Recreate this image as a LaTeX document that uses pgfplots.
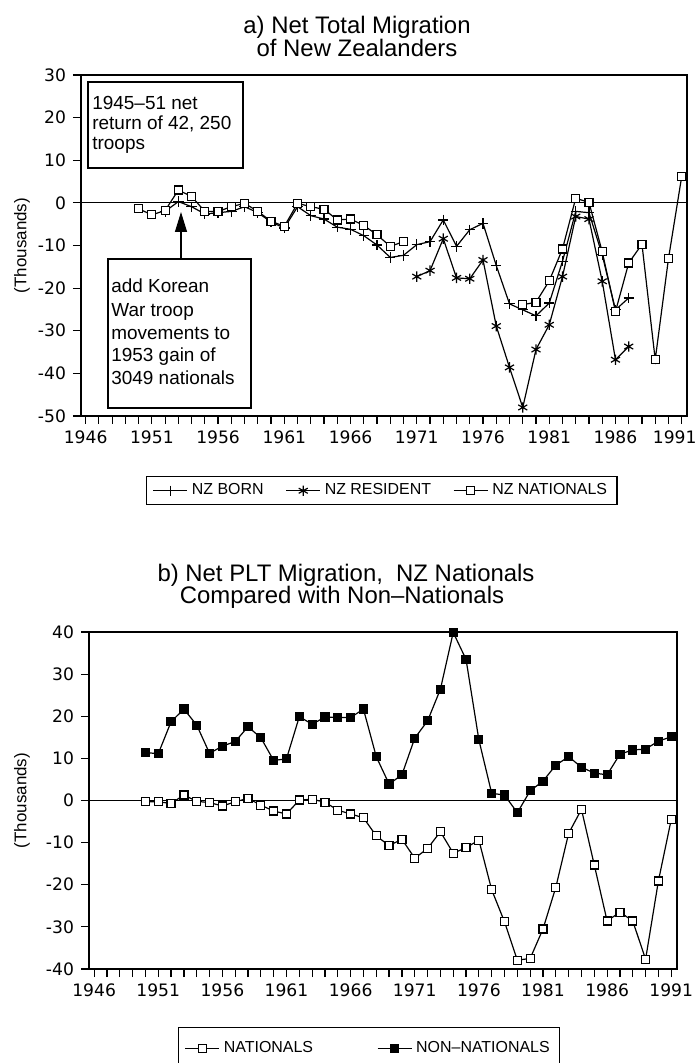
\documentclass[border=0pt]{standalone}
\usepackage{fontspec}
\setmainfont{Liberation Sans}
\newfontfamily\tickfont{DejaVu Sans}
\usepackage{pgfplots}
\pgfplotsset{compat=1.18}
\usetikzlibrary{arrows.meta}

% one pixel of the 699x1063 reference = 0.5bp
\pgfplotsset{migr/.style={
  scale only axis,
  axis line style={line width=0.8pt},
  tick align=outside,
  xtick pos=bottom, ytick pos=left,
  xtick={1946,1951,...,1991},
  minor x tick num=4,
  major tick length=4bp, minor tick length=4bp,
  tick style={black, line width=0.6pt},
  tick label style={font=\tickfont\fontsize{8.6}{10}\selectfont},
  /pgf/number format/assume math mode=true,
  xticklabel style={/pgf/number format/1000 sep={}},
  ylabel={(Thousands)},
  ylabel style={font=\fontsize{8.5}{10}\selectfont},
  extra y ticks={0}, extra y tick labels={},
  extra y tick style={grid=major, major grid style={black, line width=0.6pt}, major tick length=0pt},
  unbounded coords=jump,
  every axis plot/.append style={black, line width=0.6pt},
  legend style={draw=black, line width=0.7pt, font=\fontsize{8}{9.6}\selectfont},
}}

\pgfplotstableread{
year born
1952 -2.0
1953 0.3
1954 -0.9
1955 -2.6
1956 -2.3
1957 -2.0
1958 -0.9
1959 -2.3
1960 -4.5
1961 -5.9
1962 -0.9
1963 -3.0
1964 -3.8
1965 -5.7
1966 -6.2
1967 -7.7
1968 -9.9
1969 -12.8
1970 -12.3
1971 -9.8
1972 -9.1
1973 -4.0
1974 -10.2
1975 -6.3
1976 -4.8
1977 -14.7
1978 -23.7
1979 -25.1
1980 -26.5
1981 -23.5
1982 -13.7
1983 -2.0
1984 -2.3
1985 -12.2
1986 -25.1
1987 -22.3
}\nzborn

\pgfplotstableread{
year resident
1971 -17.3
1972 -15.9
1973 -8.4
1974 -17.6
1975 -17.8
1976 -13.4
1977 -28.9
1978 -38.6
1979 -48.0
1980 -34.4
1981 -28.6
1982 -17.3
1983 -3.2
1984 -3.8
1985 -18.4
1986 -36.8
1987 -33.7
}\nzresident

\pgfplotstableread{
year nationals
1950 -1.4
1951 -2.8
1952 -1.8
1953 3.0
1954 1.5
1955 -2.0
1956 -2.0
1957 -0.9
1958 -0.1
1959 -2.0
1960 -4.3
1961 -5.5
1962 -0.1
1963 -0.9
1964 -1.5
1965 -4.0
1966 -3.8
1967 -5.3
1968 -7.5
1969 -10.2
1970 -9.1
1971 nan
1979 -23.9
1980 -23.3
1981 -18.3
1982 -10.8
1983 1.1
1984 0.1
1985 -11.5
1986 -25.5
1987 -14.1
1988 -9.7
1989 -36.8
1990 -13.1
1991 6.2
}\nznationals

\pgfplotstableread{
year nat non
1950 -0.3 11.4
1951 -0.3 11.1
1952 -0.7 18.7
1953 1.3 21.7
1954 -0.2 17.9
1955 -0.5 11.2
1956 -1.3 12.9
1957 -0.3 14.0
1958 0.5 17.5
1959 -1.1 14.9
1960 -2.5 9.5
1961 -3.2 9.9
1962 0.1 19.9
1963 0.3 18.1
1964 -0.4 19.8
1965 -2.3 19.7
1966 -3.2 19.7
1967 -4.1 21.7
1968 -8.4 10.4
1969 -10.7 3.9
1970 -9.2 6.1
1971 -13.7 14.8
1972 -11.4 18.9
1973 -7.4 26.4
1974 -12.5 39.9
1975 -11.2 33.5
1976 -9.4 14.4
1977 -21.2 1.7
1978 -28.8 1.3
1979 -37.9 -2.9
1980 -37.5 2.3
1981 -30.5 4.6
1982 -20.6 8.4
1983 -7.8 10.4
1984 -2.1 7.9
1985 -15.3 6.5
1986 -28.6 6.1
1987 -26.5 11.0
1988 -28.6 12.0
1989 -37.7 12.2
1990 -19.1 14.1
1991 -4.5 15.1
}\pltmigr

\begin{document}
\begin{tikzpicture}

% a) net total migration
\begin{axis}[migr,
  at={(40.5bp,323.5bp)}, anchor=south west,
  width=303bp, height=170.5bp,
  xmin=1945.65, xmax=1991.4,
  xticklabels={1946,1951,1956,1961,1966,1971,1976,1981,1986,{\kern-7bp 1991}},
  ymin=-50, ymax=30, ytick={-50,-40,...,30},
  ylabel style={at={(axis description cs:-0.0974,0.5)}, anchor=center},
  legend columns=3,
  legend style={at={(axis description cs:0.1073,-0.176)}, anchor=north west,
    inner ysep=1.5bp, /tikz/every even column/.append style={column sep=9bp}},
]
\addplot[mark=+, mark size=2.6bp] table[x=year, y=born] {\nzborn};
\addlegendentry{NZ BORN}
\addplot[mark=asterisk, mark size=2.6bp] table[x=year, y=resident] {\nzresident};
\addlegendentry{NZ RESIDENT}
\addplot[mark=square*, mark size=2bp, mark options={fill=white}] table[x=year, y=nationals] {\nznationals};
\addlegendentry{NZ NATIONALS}
\end{axis}

% b) net PLT migration
\begin{axis}[migr,
  at={(44.5bp,47bp)}, anchor=south west,
  width=294bp, height=168.5bp,
  xmin=1945.6, xmax=1991.45,
  ymin=-40, ymax=40, ytick={-40,-30,...,40},
  ylabel style={at={(axis description cs:-0.114,0.5)}, anchor=center},
  legend columns=2,
  legend style={at={(axis description cs:0.1514,-0.1721)}, anchor=north west,
    inner ysep=5bp, /tikz/every even column/.append style={column sep=30bp}},
]
\addplot[mark=square*, mark size=2bp, mark options={fill=white}] table[x=year, y=nat] {\pltmigr};
\addlegendentry{NATIONALS}
\addplot[mark=square*, mark size=2bp, mark options={fill=black}] table[x=year, y=non] {\pltmigr};
\addlegendentry{NON--NATIONALS}
\end{axis}

% titles and notes, placed in reference pixels
\begin{scope}[x=0.5bp, y=-0.5bp, shift={(0bp,531.5bp)}]
  \begin{scope}[every node/.style={anchor=base, inner sep=0pt, font=\fontsize{12}{14}\selectfont}]
    \node at (357,34) {a) Net Total Migration};
    \node at (357,57) {of New Zealanders};
    \node at (346,582) {b) Net PLT Migration,~ NZ Nationals};
    \node at (342,604) {Compared with Non--Nationals};
  \end{scope}
  \draw[line width=0.7pt] (88,82) rectangle (243,168);
  \draw[line width=0.7pt] (108,259) rectangle (251,408);
  \begin{scope}[every node/.style={anchor=base west, inner sep=0pt, font=\fontsize{9.5}{11}\selectfont}]
    \node at (92,110) {1945--51 net};
    \node at (92,130) {return of 42, 250};
    \node at (92,150) {troops};
    \node at (111,293) {add Korean};
    \node at (111,317) {War troop};
    \node at (111,340) {movements to};
    \node at (111,362) {1953 gain of};
    \node at (111,385) {3049 nationals};
  \end{scope}
  \draw[line width=0.6pt, -{Triangle[length=10bp, width=6bp]}] (181,259) -- (181,212);
\end{scope}

\pgfresetboundingbox
\useasboundingbox (0,0) rectangle (349.5bp,531.5bp);
\end{tikzpicture}
\end{document}
